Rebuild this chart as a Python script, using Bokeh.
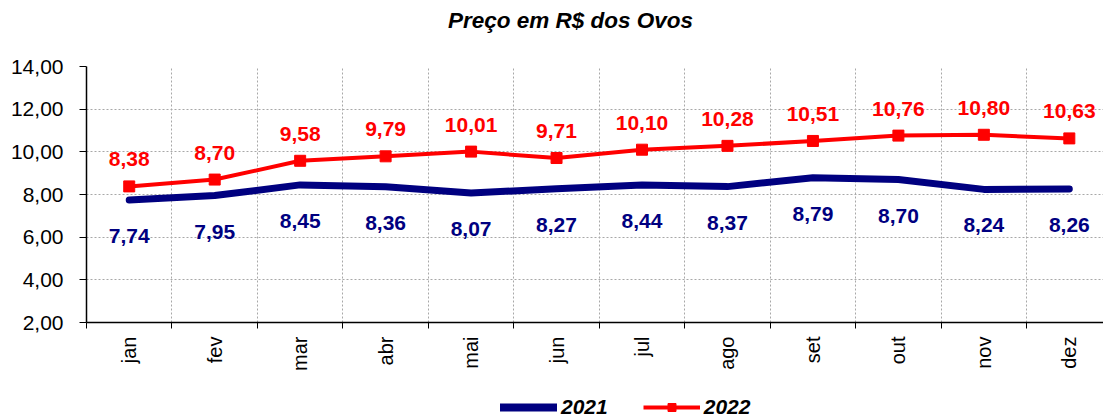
from bokeh.plotting import figure
from bokeh.layouts import column
from bokeh.models import (Range1d, FixedTicker, Legend, LegendItem, ColumnDataSource, Label)
from bokeh.core.properties import value
from bokeh.embed import file_html
from bokeh.resources import INLINE

months = ["jan", "fev", "mar", "abr", "mai", "jun", "jul", "ago", "set", "out", "nov", "dez"]
v2021 = [7.74, 7.95, 8.45, 8.36, 8.07, 8.27, 8.44, 8.37, 8.79, 8.70, 8.24, 8.26]
v2022 = [8.38, 8.70, 9.58, 9.79, 10.01, 9.71, 10.10, 10.28, 10.51, 10.76, 10.80, 10.63]
y_ticks = [2, 4, 6, 8, 10, 12, 14]
series_names = ["2021", "2022"]
title_text = "Preço em R$ dos Ovos"

FONT = "Liberation Sans"
BLUE = "#000080"
RED = "#FF0000"

xs = [i + 0.5 for i in range(len(months))]
fmt = lambda v: f"{v:.2f}".replace(".", ",")

src21 = ColumnDataSource(dict(x=xs, y=v2021, t=[fmt(v) for v in v2021]))
src22 = ColumnDataSource(dict(x=xs, y=v2022, t=[fmt(v) for v in v2022]))


def strip(height):
    f = figure(width=1103, height=height, output_backend="svg", toolbar_location=None,
               x_range=Range1d(86, 1103), y_range=Range1d(height, 0),
               x_axis_type=None, y_axis_type=None,
               min_border_left=86, min_border_right=0, min_border_top=0, min_border_bottom=0)
    f.outline_line_color = None
    f.xgrid.visible = False
    f.ygrid.visible = False
    f.background_fill_color = "white"
    f.border_fill_color = "white"
    return f


# title strip
hdr = strip(54)
hdr.add_layout(Label(x=570, y=20, text=title_text, text_align="center",
                     text_baseline="middle", text_font=FONT, text_font_size="22.5px",
                     text_font_style="bold italic", text_color="black"))

# main chart
p = figure(frame_width=1017, frame_height=256, output_backend="svg", toolbar_location=None,
           x_range=Range1d(0, 11.9), y_range=Range1d(2, 14),
           min_border_left=86, min_border_right=0, min_border_top=12, min_border_bottom=60)
p.outline_line_color = None
p.background_fill_color = "white"
p.border_fill_color = "white"

p.xaxis.ticker = FixedTicker(ticks=xs, minor_ticks=list(range(0, 13)))
p.xaxis.major_label_overrides = {x: m for x, m in zip(xs, months)}
p.xaxis.major_label_orientation = 1.5708
p.xaxis.major_tick_line_color = None
p.xaxis.minor_tick_line_color = "black"
p.xaxis.minor_tick_in = 0
p.xaxis.minor_tick_out = 6
p.xaxis.major_label_standoff = 8
p.xaxis.major_label_text_font = FONT
p.xaxis.major_label_text_font_size = "20px"
p.xaxis.major_label_text_color = "black"
p.xaxis.axis_line_color = "black"
p.xaxis.axis_line_width = 1.5

p.yaxis.ticker = FixedTicker(ticks=y_ticks, minor_ticks=[])
p.yaxis.major_label_overrides = {t: f"{t:.2f}".replace(".", ",") for t in y_ticks}
p.yaxis.major_tick_in = 0
p.yaxis.major_tick_out = 7
p.yaxis.major_tick_line_color = "black"
p.yaxis.major_label_standoff = 16
p.yaxis.major_label_text_font = FONT
p.yaxis.major_label_text_font_size = "21px"
p.yaxis.major_label_text_color = "black"
p.yaxis.axis_line_color = "black"
p.yaxis.axis_line_width = 1.5

p.xgrid.ticker = FixedTicker(ticks=list(range(1, 13)))
p.xgrid.grid_line_color = "#a8a8a8"
p.xgrid.grid_line_dash = "2 2"
p.xgrid.grid_line_width = 1
p.ygrid.ticker = FixedTicker(ticks=y_ticks)
p.ygrid.grid_line_color = "#a8a8a8"
p.ygrid.grid_line_dash = "2 2"
p.ygrid.grid_line_width = 1

p.line("x", "y", source=src21, line_color=BLUE, line_width=7,
       line_cap="round", line_join="round")
p.line("x", "y", source=src22, line_color=RED, line_width=4, line_join="round")
p.scatter("x", "y", source=src22, marker="square", size=11,
          fill_color=RED, line_color=RED)

p.text("x", "y", text="t", source=src22, text_font=value(FONT), text_font_style="bold",
       text_font_size="21px", text_color=RED, text_align="center",
       text_baseline="middle", y_offset=-27)
p.text("x", "y", text="t", source=src21, text_font=value(FONT), text_font_style="bold",
       text_font_size="21px", text_color=BLUE, text_align="center",
       text_baseline="middle", y_offset=36)

# legend strip
lg = strip(37)
dummy = ColumnDataSource(dict(x=[-50, -40], y=[-50, -40]))
d21 = lg.line("x", "y", source=dummy, line_color=BLUE, line_width=8, line_cap="round")
d22 = lg.line("x", "y", source=dummy, line_color=RED, line_width=4)
d22m = lg.scatter("x", "y", source=dummy, marker="square", size=11,
                  fill_color=RED, line_color=RED)

legend = Legend(items=[LegendItem(label=series_names[0], renderers=[d21]),
                       LegendItem(label=series_names[1], renderers=[d22, d22m])],
                orientation="horizontal", location=(414, 0),
                label_text_font=FONT, label_text_font_size="21px",
                label_text_font_style="bold italic", label_text_color="black",
                glyph_width=57, glyph_height=20, label_height=20, spacing=35, label_standoff=4,
                border_line_color=None, background_fill_alpha=0, margin=0, padding=0)
lg.add_layout(legend)

layout = column(hdr, p, lg, spacing=0)
open("out.html", "w").write(file_html(layout, INLINE))
